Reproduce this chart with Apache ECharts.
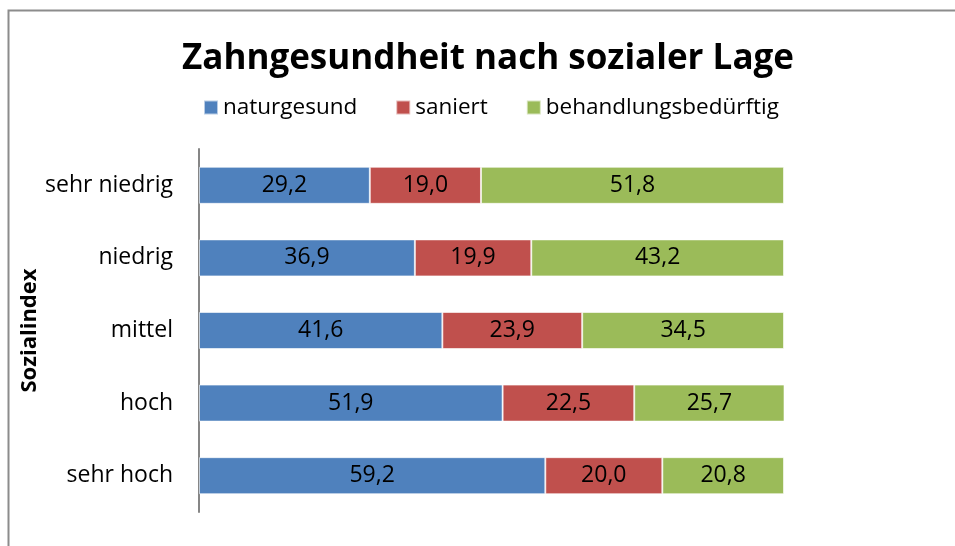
<!DOCTYPE html>
<html style="height: 100%;">
<head>
<meta charset="utf-8">
<title>Zahngesundheit nach sozialer Lage</title>
<script src="https://cdn.jsdelivr.net/npm/echarts@6/dist/echarts.min.js"></script>
</head>
<body style="height: 100%; margin: 0; background: #fff;">
<div id="container" style="width: 955px; height: 546px;"></div>
<script type="text/javascript">
// Kategorien von oben nach unten
var kategorien = ['sehr niedrig', 'niedrig', 'mittel', 'hoch', 'sehr hoch'];
var naturgesund = [29.2, 36.9, 41.6, 51.9, 59.2];
var saniert = [19.0, 19.9, 23.9, 22.5, 20.0];
var behandlungsbeduerftig = [51.8, 43.2, 34.5, 25.7, 20.8];

var schrift = '"Open Sans", "Noto Sans", sans-serif';

function fmt(p) {
    return p.value.toFixed(1).replace('.', ',');
}

function reihe(name, werte, farbe) {
    return {
        name: name,
        type: 'bar',
        stack: 'gesamt',
        data: werte,
        barCategoryGap: '49%',
        itemStyle: { color: farbe, borderColor: 'rgba(255,255,255,0.6)', borderWidth: 1 },
        label: {
            show: true,
            position: 'inside',
            color: '#000',
            fontSize: 23,
            fontFamily: schrift,
            formatter: fmt
        }
    };
}

var myChart = echarts.init(document.getElementById('container'));
var option = {
    animation: false,
    textStyle: { fontFamily: schrift },
    title: {
        text: 'Zahngesundheit nach sozialer Lage',
        left: 177,
        top: 37,
        textStyle: { fontSize: 35, fontWeight: 'bold', color: '#000', fontFamily: schrift }
    },
    legend: {
        top: 91,
        left: 198,
        itemWidth: 14,
        itemHeight: 14,
        itemGap: 38,
        icon: 'rect',
        textStyle: { fontSize: 22.5, color: '#000', fontFamily: schrift },
        data: ['naturgesund', 'saniert', 'behandlungsbedürftig']
    },
    grid: { left: 199, right: 171, top: 149, bottom: 34 },
    xAxis: {
        type: 'value',
        min: 0,
        max: 100,
        show: false
    },
    yAxis: {
        type: 'category',
        data: kategorien,
        inverse: true,
        name: 'Sozialindex',
        nameLocation: 'middle',
        nameGap: 158,
        nameMoveOverlap: false,
        nameRotate: 90,
        nameTextStyle: { fontSize: 22, fontWeight: 'bold', color: '#000', fontFamily: schrift },
        axisLine: { show: true, lineStyle: { color: '#868686', width: 2 } },
        axisTick: { show: false },
        axisLabel: { fontSize: 23, color: '#000', margin: 26, fontFamily: schrift },
        splitLine: { show: false }
    },
    series: [
        reihe('naturgesund', naturgesund, '#4F81BD'),
        reihe('saniert', saniert, '#C0504D'),
        reihe('behandlungsbedürftig', behandlungsbeduerftig, '#9BBB59')
    ],
    graphic: [{
        type: 'rect',
        shape: { x: 8.5, y: 10.5, width: 1000, height: 600 },
        style: { fill: 'none', stroke: '#8c8c8c', lineWidth: 2 },
        silent: true,
        z: -1
    }]
};
myChart.setOption(option);
</script>
</body>
</html>
